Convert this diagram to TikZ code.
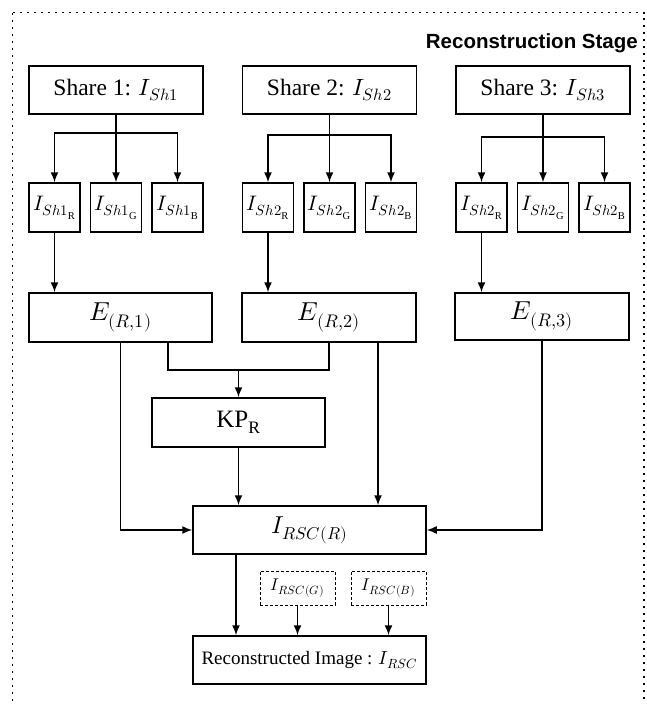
\documentclass[tikz,border=0pt]{standalone}
\usepackage{fontspec}
\usepackage{unicode-math}
\setmainfont{Liberation Serif}
\setsansfont{Liberation Sans}
\setmathfont{Latin Modern Math}
\usetikzlibrary{arrows.meta}

\tikzset{
  box/.style={draw,line width=1.5pt,inner sep=0pt,align=center},
  sharebox/.style={box,minimum width=174pt,minimum height=48pt,font=\fontsize{23.5}{28}\selectfont},
  chan/.style={box,minimum width=51pt,minimum height=49pt,font=\fontsize{21}{24}\selectfont},
  ebox/.style={box,minimum width=174pt,minimum height=49pt,font=\fontsize{26}{30}\selectfont},
  dashbox/.style={draw,line width=0.8pt,dash pattern=on 3pt off 2pt,inner sep=0pt,
    minimum width=75pt,minimum height=34pt,font=\fontsize{17}{20}\selectfont},
  arr/.style={line width=1.5pt,-{Latex[length=10pt,width=8pt]}},
  link/.style={line width=1.5pt},
  frame/.style={line width=1.8pt,dash pattern=on 2pt off 5pt},
  stagetitle/.style={font=\sffamily\bfseries\fontsize{20.5}{24}\selectfont,inner sep=0pt}
}

\begin{document}
\begin{tikzpicture}[x=1pt,y=-1pt]
  \useasboundingbox (0,0) rectangle (646,704);
  \clip (0,0) rectangle (646,704);
  \draw[frame] (12.5,12.5) rectangle (644,740);
  \node[stagetitle,anchor=east] (stage) at (638,43) {Reconstruction Stage};

  % shares and their colour channels
  \foreach \s/\x/\t/\y in {1/116/1/133,2/329.5/2/135,3/543/2/137}{
    \node[sharebox] (sh\s) at (\x,90) {Share \s: $I_{Sh\s}$};
    \node[chan] (sh\s r) at (\x-61.5,207.5) {$I_{Sh\t_{\mathrm{R}}}$};
    \node[chan] (sh\s g) at (\x,207.5) {$I_{Sh\t_{\mathrm{G}}}$};
    \node[chan] (sh\s b) at (\x+61.5,207.5) {$I_{Sh\t_{\mathrm{B}}}$};
    \coordinate (j\s) at (\x,\y);
    \draw[link] (sh\s.south) -- (j\s);
    \foreach \c in {r,g,b} \draw[arr] (j\s) -| (sh\s\c.north);
  }

  \node[ebox,minimum width=183pt] (E1) at (120.5,317.5) {$E_{(R,1)}$};
  \node[ebox] (E2) at (329,317.5) {$E_{(R,2)}$};
  \node[ebox,minimum height=47pt] (E3) at (542,316.5) {$E_{(R,3)}$};
  \draw[arr] (sh1r.south) -- (sh1r.south |- E1.north);
  \draw[arr] (sh2r.south) -- (sh2r.south |- E2.north);
  \draw[arr] (sh3r.south) -- (sh3r.south |- E3.north);

  \node[box,minimum width=173pt,minimum height=49pt,font=\fontsize{25}{29}\selectfont]
    (kp) at (238.5,422.5) {$\mathrm{KP}_{\mathrm{R}}$};
  \node[box,minimum width=233pt,minimum height=48pt,font=\fontsize{24.5}{29}\selectfont]
    (rscR) at (309.5,530) {$I_{RSC(R)}$};
  \node[dashbox] (rscG) at (297.5,588) {$I_{RSC(G)}$};
  \node[dashbox] (rscB) at (388.5,588) {$I_{RSC(B)}$};
  \node[box,minimum width=233pt,minimum height=48pt,font=\fontsize{19}{22}\selectfont]
    (rec) at (309.5,660) {Reconstructed Image : $I_{RSC}$};

  % key part from E1 and E2
  \coordinate (e1r) at ([xshift=47.5pt]E1.south);
  \coordinate (e2r) at ([xshift=49pt]E2.south);
  \coordinate (m) at (238.5,370);
  \draw[link] (e1r) |- (m) -| (E2.south);
  \draw[arr] (m) -- (kp.north);
  \draw[arr] (kp.south) -- (kp.south |- rscR.north);
  \draw[arr] (e2r) -- (e2r |- rscR.north);
  \draw[arr] (E1.south) |- (rscR.west);
  \draw[arr] (E3.south) |- (rscR.east);

  % final image
  \coordinate (rd) at ([xshift=-73.5pt]rscR.south);
  \draw[arr] (rd) -- (rd |- rec.north);
  \draw[arr] (rscG.south) -- (rscG.south |- rec.north);
  \draw[arr] (rscB.south) -- (rscB.south |- rec.north);
\end{tikzpicture}
\end{document}
